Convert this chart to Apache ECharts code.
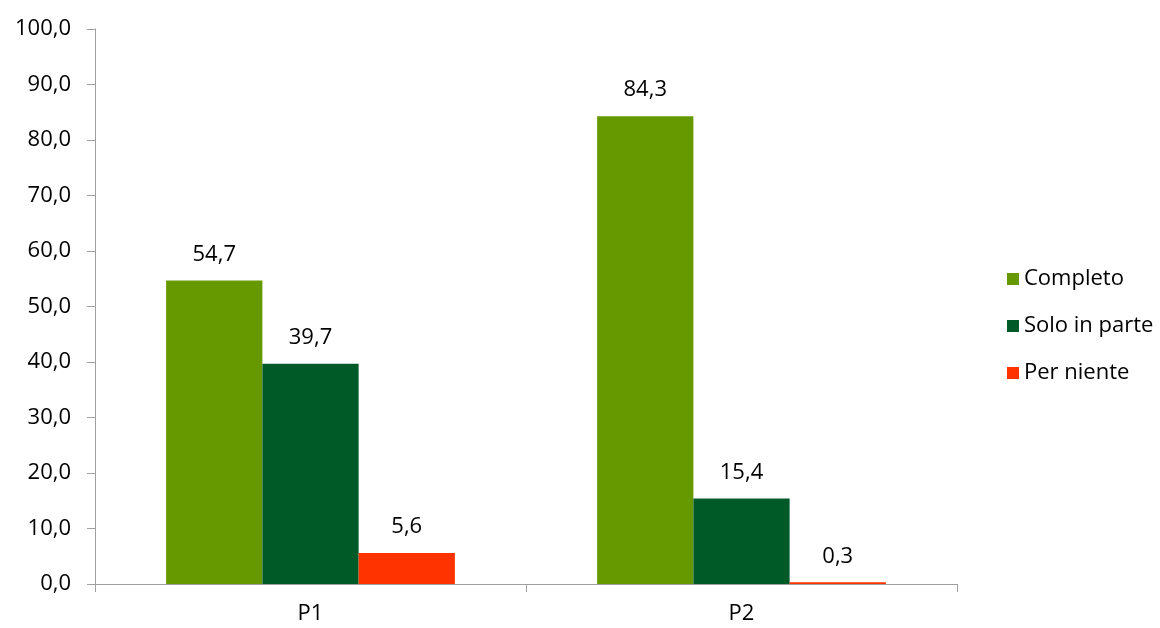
<!DOCTYPE html>
<html><head><meta charset="utf-8">
<script src="https://cdn.jsdelivr.net/npm/echarts@6/dist/echarts.min.js"></script>
<style>html,body{margin:0;padding:0;background:#fff}#c{width:1160px;height:628px}</style>
</head><body><div id="c"></div>
<script>
const categories = ['P1', 'P2'];
const seriesNames = ['Completo', 'Solo in parte', 'Per niente'];
const completo = [54.7, 84.3];
const soloInParte = [39.7, 15.4];
const perNiente = [5.6, 0.3];
const colors = ['#669900', '#005A28', '#FF3300'];
const FONT = 'Open Sans';
const FS = 22;
const fmt = v => Number(v).toFixed(1).replace('.', ',');
const values = [completo, soloInParte, perNiente];
const chart = echarts.init(document.getElementById('c'));
chart.setOption({
  animation: false,
  textStyle: { fontFamily: FONT },
  grid: { left: 95, right: 203, top: 29, bottom: 44 },
  legend: {
    orient: 'vertical', left: 1002, top: 263, itemWidth: 12, itemHeight: 12, itemGap: 25,
    icon: 'rect',
    textStyle: { fontFamily: FONT, fontSize: FS, color: '#000' },
    data: seriesNames
  },
  xAxis: {
    type: 'category', data: categories,
    axisLine: { lineStyle: { color: '#A0A0A0', width: 1 } },
    axisTick: { show: true, length: 8, alignWithLabel: false, lineStyle: { color: '#A0A0A0' } },
    axisLabel: { fontFamily: FONT, fontSize: FS, color: '#000', margin: 19 }
  },
  yAxis: {
    type: 'value', min: 0, max: 100, interval: 10,
    axisLine: { show: true, lineStyle: { color: '#A0A0A0', width: 1 } },
    axisTick: { show: true, length: 8, lineStyle: { color: '#A0A0A0' } },
    splitLine: { show: false },
    axisLabel: { fontFamily: FONT, fontSize: FS, color: '#000', margin: 24, formatter: v => fmt(v) }
  },
  series: seriesNames.map((n, i) => ({
    name: n, type: 'bar', data: values[i], barGap: 0, barCategoryGap: '33%',
    itemStyle: { color: colors[i] },
    label: { show: true, position: 'top', distance: 15, fontFamily: FONT, fontSize: FS, color: '#000', formatter: p => fmt(p.value) }
  }))
});
</script></body></html>
